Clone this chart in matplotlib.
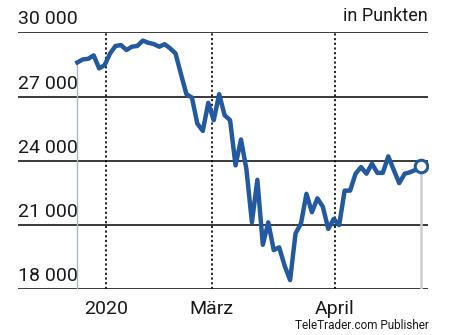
import matplotlib
matplotlib.use("Agg")
import matplotlib.pyplot as plt
import matplotlib.transforms as mtransforms

# Dow Jones, daily closes (Jan 27 - Apr 2020)
values = [28600, 28740, 28770, 28930, 28320, 28475, 29020, 29370, 29410, 29180,
          29335, 29370, 29620, 29520, 29460, 29335, 29450, 29260, 29020, 28050,
          27115, 26960, 25740, 25400, 26710, 25900, 27115, 26130, 25900, 23790,
          25000, 23600, 21130, 23115, 20080, 21130, 19830, 19960, 19100, 18430,
          20610, 21080, 22460, 21600, 22250, 21860, 20820, 21290, 21000, 22610,
          22610, 23400, 23710, 23400, 23870, 23440, 23440, 24210, 23580, 22960,
          23400, 23470, 23580, 23740]
y_ticks = [18000, 21000, 24000, 27000, 30000]
y_labels = ["18 000", "21 000", "24 000", "27 000", "30 000"]
month_labels = ["2020", "März", "April"]
month_pos = [5.3, 24.6, 47.2]

blue = "#22599f"
font = ["Roboto", "DejaVu Sans"]

fig = plt.figure(figsize=(4.51, 3.35), dpi=100)
ax = fig.add_axes([0.040, 0.1364, 0.909, 0.7667])
x = list(range(len(values)))

ax.set_xlim(-10.87, 64.28)
ax.set_ylim(18000, 30000)
for s in ax.spines.values():
    s.set_visible(False)
ax.set_xticks([])
ax.set_yticks([])

trans = mtransforms.blended_transform_factory(ax.transAxes, ax.transData)
for t, lab in zip(y_ticks, y_labels):
    ax.axhline(t, color="#3a3a3a", lw=1.4, zorder=1)
    ax.annotate(lab, xy=(0, t), xycoords=trans, xytext=(0, 3),
                textcoords="offset points", ha="left", va="bottom",
                fontsize=14, family=font, color="#1a1a1a")

xtrans = mtransforms.blended_transform_factory(ax.transData, ax.transAxes)
for p, lab in zip(month_pos, month_labels):
    ax.axvline(p, color="#111111", lw=1.3, ls=(0, (1.2, 1.4)), zorder=1)
    ax.annotate(lab, xy=(p, 0), xycoords=xtrans,
                xytext=(0, -8), textcoords="offset points", ha="center", va="top",
                fontsize=14, family=font, color="#1a1a1a")

# drop lines at start and end
ax.plot([x[0], x[0]], [18000, values[0]], color="#a9b7c8", lw=1.0, zorder=2)
ax.plot([x[-1], x[-1]], [18000, values[-1]], color="#c9cdd2", lw=1.8, zorder=2)

ax.plot(x, values, color=blue, lw=3.2, solid_joinstyle="round", zorder=3)
ax.plot(x[-1], values[-1], "o", ms=9, mfc="white", mec=blue, mew=2.2, zorder=4)

fig.text(0.949, 0.925, "in Punkten", ha="right", va="bottom", fontsize=13,
         family=font, color="#1a1a1a")
fig.text(0.951, 0.008, "TeleTrader.com Publisher", ha="right", va="bottom",
         fontsize=8.5, family=font, color="#1a1a1a")

fig.savefig("out.png", dpi=100)
